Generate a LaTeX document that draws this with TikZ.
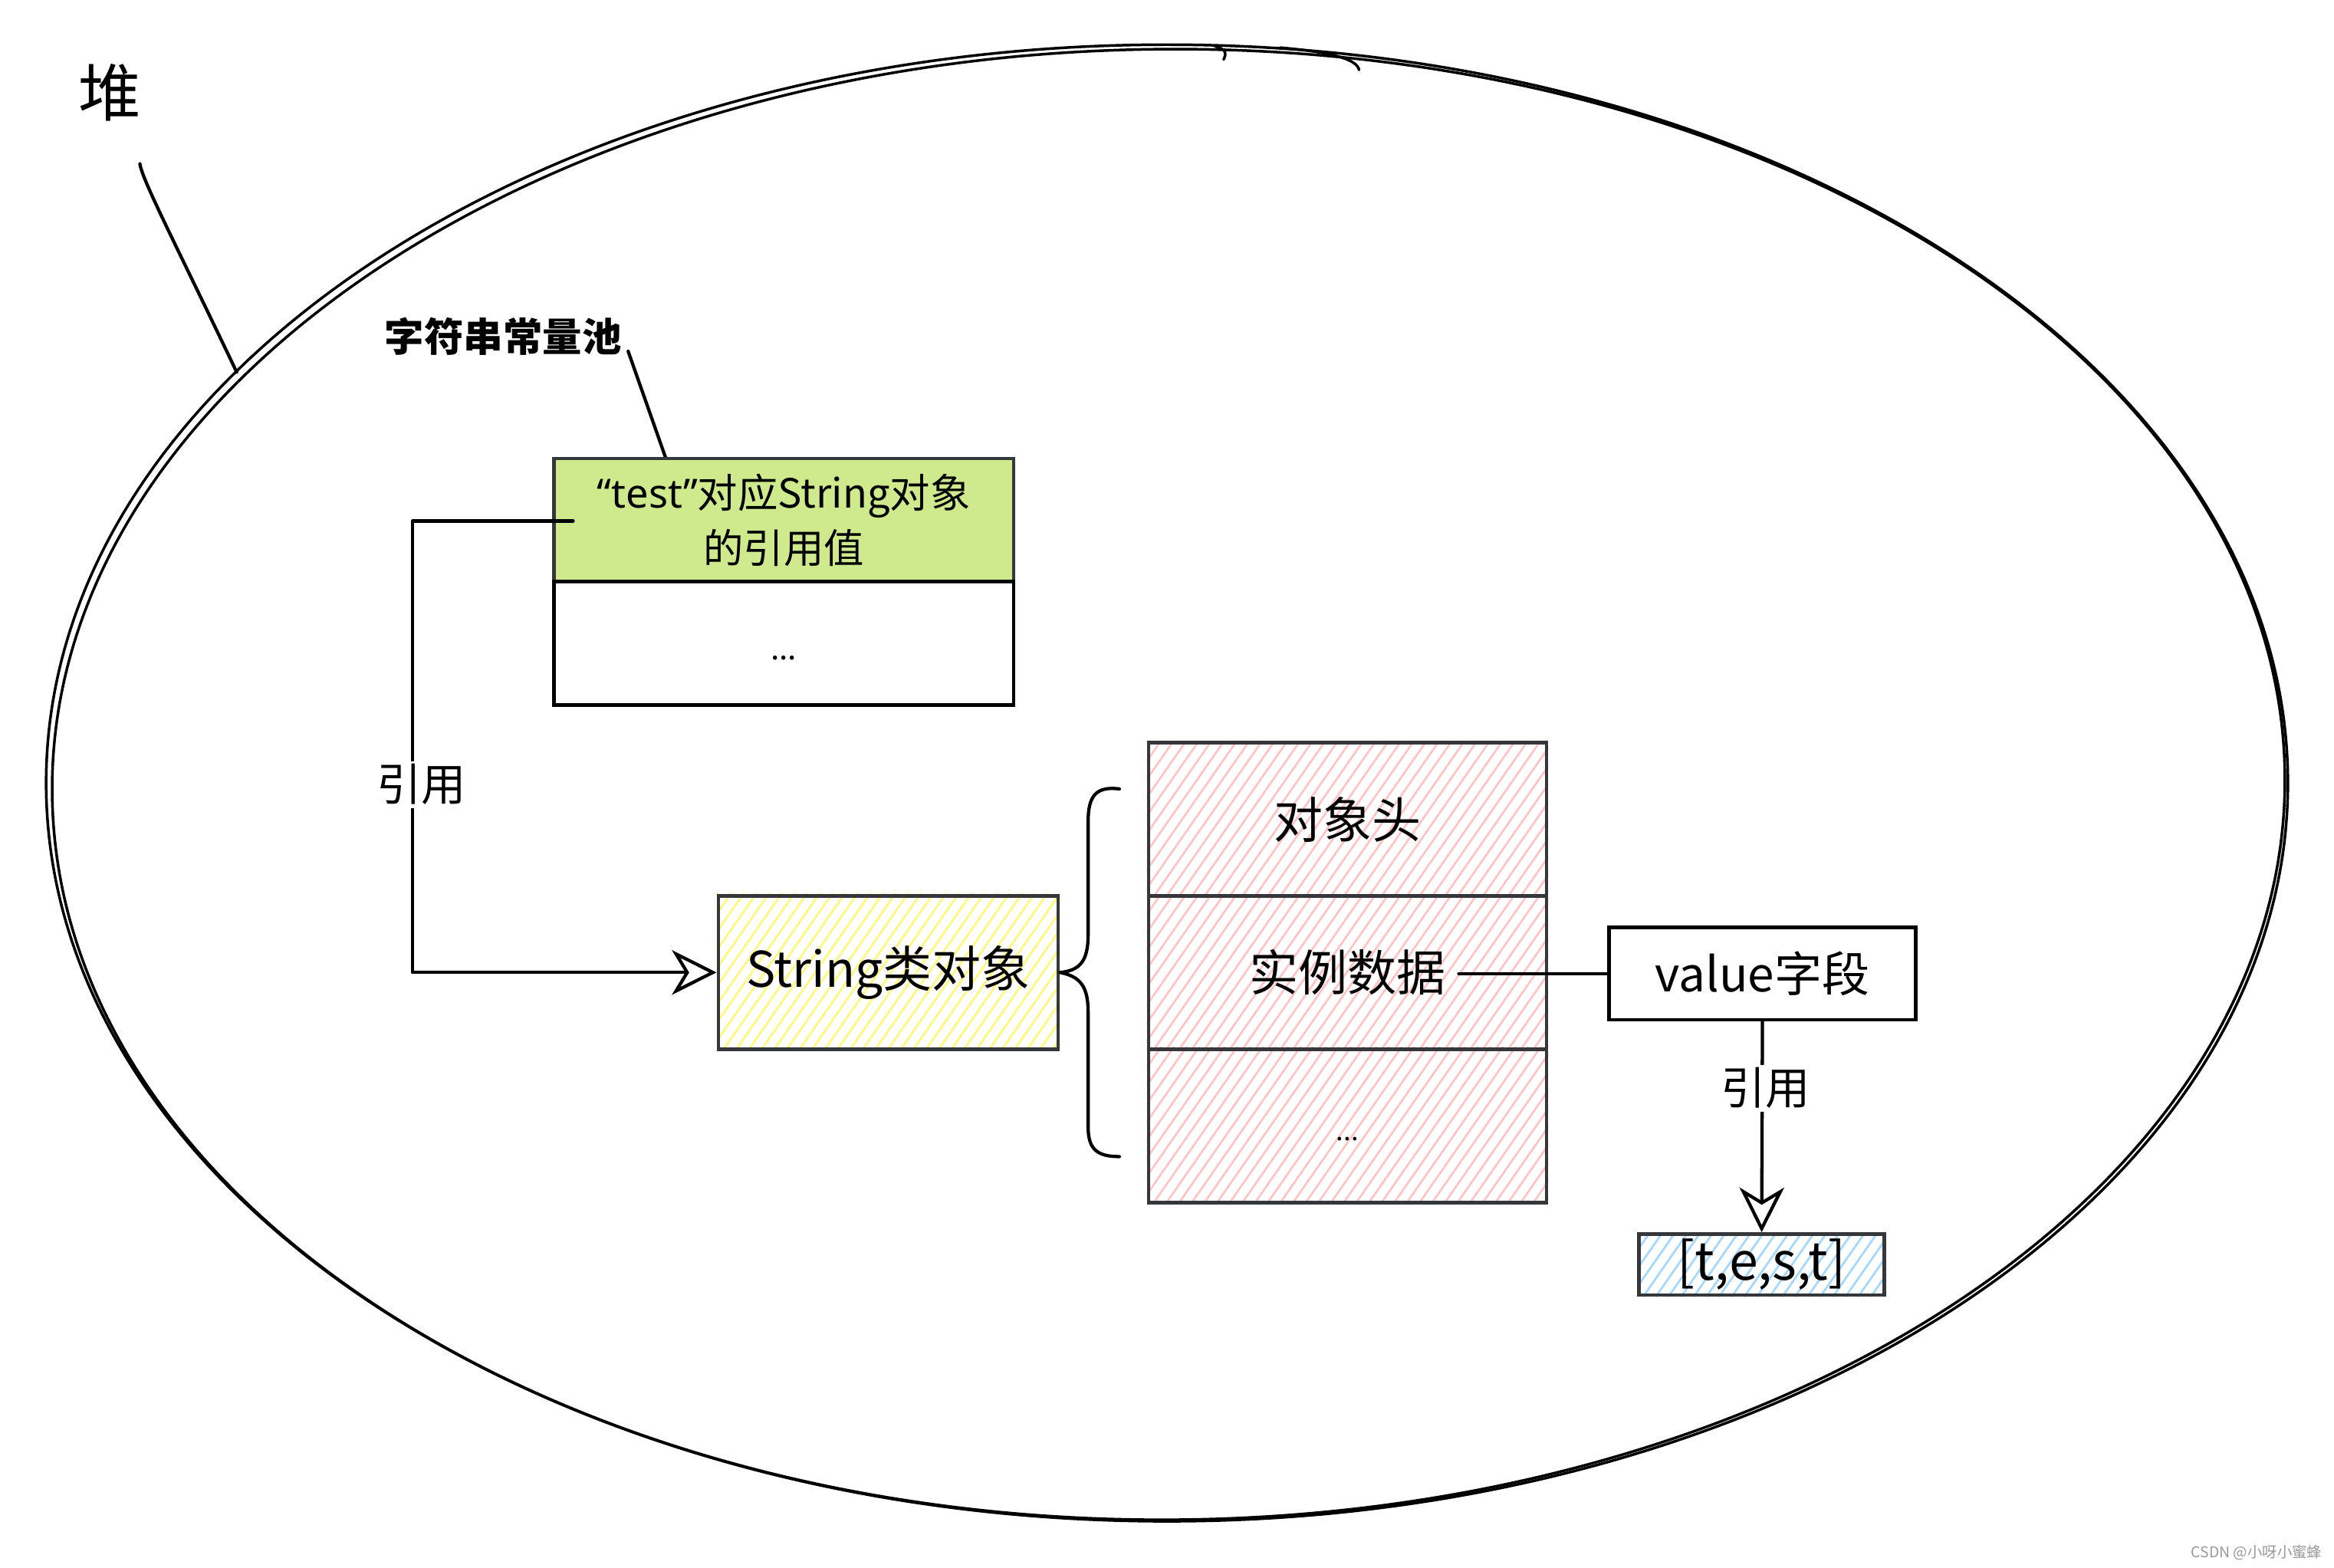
\documentclass[tikz,border=0pt]{standalone}
\usepackage{fontspec}
\setmainfont{Noto Sans CJK SC}
\newfontfamily\latinf{Noto Sans}
\usetikzlibrary{arrows.meta,backgrounds}
\definecolor{outl}{HTML}{35373B}
\definecolor{greenfill}{HTML}{CEEA8C}
\definecolor{pinkh}{HTML}{FFC4C4}
\definecolor{yellowh}{HTML}{FFF87A}
\definecolor{blueh}{HTML}{A5D8FF}
\definecolor{wmark}{HTML}{9A9A9A}
\newcommand\hachure[2]{%
  \begin{scope}
    \clip (#1.south west) rectangle (#1.north east);
    \foreach \k in {0,...,60}
      \draw[#2, line width=1.4pt] ([xshift={\k*8.5pt-115pt}]#1.south west) -- ++(115pt,165pt);
  \end{scope}}
\tikzset{
  sbox/.style={draw=outl, line width=2.4pt, inner sep=0pt, align=center},
  kbox/.style={draw=black, line width=2.4pt, inner sep=0pt, align=center},
  conn/.style={draw=black, line width=2.2pt, line cap=round, line join=round},
  arr/.style={-{Stealth[open, length=30pt, width=30pt, inset=9pt, line width=2.2pt]}},
  heapst/.style={draw=black, line width=1.8pt, line cap=round},
  lbl/.style={fill=white, inner sep=2pt, font=\fontsize{30}{36}\selectfont},
}
\begin{document}
\begin{tikzpicture}[x=1pt,y=-1pt]
\useasboundingbox (0,0) rectangle (1568,1053);
\begin{pgfonlayer}{background}
  \fill[white] (0,0) rectangle (1568,1053);
\end{pgfonlayer}

% heap outline
\draw[heapst] (784,526) ellipse [x radius=753, y radius=496];
\draw[heapst, rotate around={0.4:(784,526)}] (785,527) ellipse [x radius=750, y radius=494];
\draw[heapst] (816,31) .. controls (824,33) and (824,36) .. (822,40);
\draw[heapst] (860,32) .. controls (895,35) and (912,40) .. (913,47);

% labels
\node[font=\fontsize{42}{50}\selectfont] (heap) at (74,62) {堆};
\coordinate (heapleadA) at (94,110);
\coordinate (heapleadB) at (159,250);
\draw[conn] (heapleadA) .. controls (95,120) and (120,168) .. (heapleadB);

\node[font=\bfseries\fontsize{26.5}{32}\selectfont] (pool) at (338,226) {字符串常量池};
\coordinate (poolleadA) at (422,236);
\coordinate (poolleadB) at (447,307);
\draw[conn] (poolleadA) -- (poolleadB);

% string constant pool table
\node[sbox, fill=greenfill, minimum width=309, minimum height=82.5,
      font=\fontsize{27}{37}\selectfont] (ref) at (526.5,349.3)
      {{\latinf “test”}对应String对象\\的引用值};
\node[kbox, minimum width=309, minimum height=83,
      font=\fontsize{21}{24}\selectfont] (rest) at (526.5,432)
      {\smash{\raisebox{-11pt}{...}}};

% String object
\node[sbox, minimum width=228.3, minimum height=103,
      font=\fontsize{33}{40}\selectfont] (str) at (596.75,653.3) {String类对象};

% object layout
\node[sbox, minimum width=267.4, minimum height=103,
      font=\fontsize{33}{40}\selectfont] (ob1) at (905.3,550.5) {对象头};
\node[sbox, minimum width=267.4, minimum height=103,
      font=\fontsize{33}{40}\selectfont] (ob2) at (905.3,653.4) {实例数据};
\node[sbox, minimum width=267.4, minimum height=103,
      font=\fontsize{18}{22}\selectfont] (ob3) at (905.3,756.3) {\smash{\raisebox{-10pt}{...}}};

% value field and char array
\node[kbox, minimum width=206, minimum height=62,
      font=\fontsize{32}{38}\selectfont] (val) at (1184,654) {value字段};
\node[sbox, minimum width=165, minimum height=41,
      font=\fontsize{35}{40}\selectfont] (tst) at (1183.5,849.5) {[t,e,s,t]};

% hachures
\begin{pgfonlayer}{background}
  \hachure{str}{yellowh}
  \hachure{ob1}{pinkh}
  \hachure{ob2}{pinkh}
  \hachure{ob3}{pinkh}
  \hachure{tst}{blueh}
\end{pgfonlayer}

% brace
\draw[conn] (752,530) .. controls (736,528) and (731,535) .. (731,552)
  -- (731,628) .. controls (731,645) and (726,652) .. (str.east)
  .. controls (726,656) and (731,663) .. (731,680)
  -- (731,757) .. controls (731,772) and (737,777) .. (752,777);

% connectors
\coordinate (refstart) at (385,350);
\draw[conn, arr] (refstart) -- (277,350) |- (str.west);
\node[lbl] (lblA) at (283,527) {引用};

\coordinate (instend) at (980,654);
\draw[conn] (instend) -- (val.west);

\draw[conn, arr] (val.south) -- (tst.north);
\node[lbl] (lblB) at (1186,731) {引用};

% watermark
\node[font=\fontsize{10}{12}\selectfont, text=wmark] (wm) at (1516,1043) {CSDN @小呀小蜜蜂};
\end{tikzpicture}
\end{document}
